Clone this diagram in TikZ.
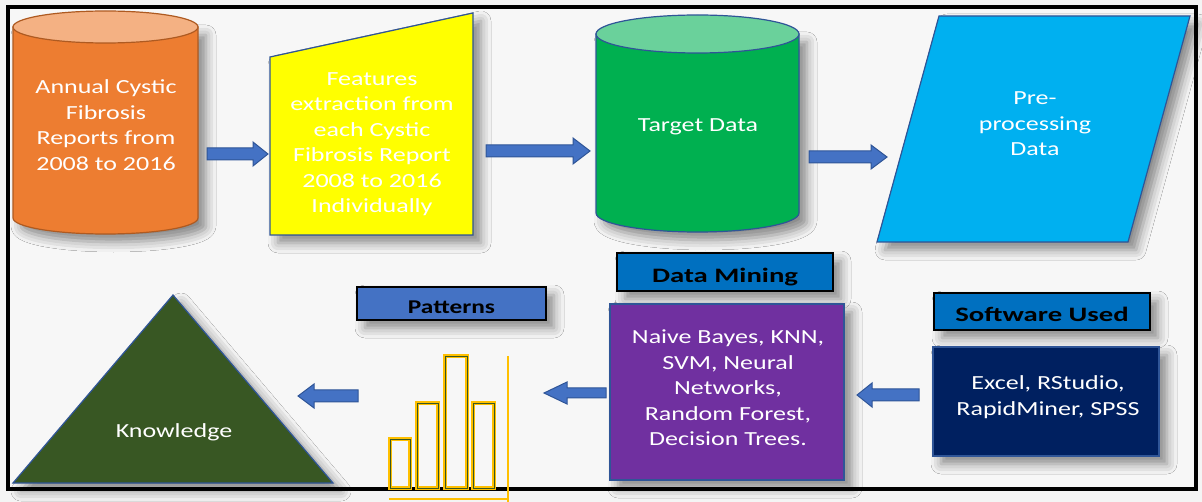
\documentclass[tikz,border=0pt]{standalone}
\usepackage{fontspec}
\setmainfont{Carlito}
\newfontfamily\wfont[FakeStretch=1.3]{Carlito}
\newfontfamily\lfont[FakeStretch=1.4]{Carlito}
\newfontfamily\pfont[FakeStretch=1.3]{Carlito}
\usetikzlibrary{shadows.blur}
\definecolor{bgc}{HTML}{F4F4F4}
\definecolor{orgbody}{HTML}{ED7D31}
\definecolor{orgtop}{HTML}{F4B183}
\definecolor{orgline}{HTML}{AE5A21}
\definecolor{bluelin}{HTML}{2F5597}
\definecolor{yel}{HTML}{FFFF00}
\definecolor{grnbody}{HTML}{00B050}
\definecolor{grntop}{HTML}{6AD19B}
\definecolor{cyanf}{HTML}{00B0F0}
\definecolor{dkgreen}{HTML}{385723}
\definecolor{purp}{HTML}{7030A0}
\definecolor{navy}{HTML}{002060}
\definecolor{lblblue}{HTML}{0070C0}
\definecolor{arrblue}{HTML}{4472C4}
\definecolor{gold}{HTML}{FFC000}
\begin{document}
\begin{tikzpicture}[x=1pt,y=-1pt,
  shd/.style={blur shadow={shadow xshift=8pt, shadow yshift=-8pt, shadow blur radius=10pt, shadow opacity=45}},
  wtxt/.style={text=white, align=center, font=\wfont\fontsize{20}{25.5}\selectfont},
  lbl/.style={draw=black, line width=1.2pt, font=\lfont\bfseries\fontsize{20.5}{24}\selectfont, text=black, inner sep=0pt, text height=21pt, text depth=0pt},
  arrowsty/.style={fill=arrblue, draw=bluelin, line width=1pt},
  pics/barrow/.style args={#1/#2/#3/#4}{code={
    \path[arrowsty] (0,-#3) -- ({#1-#2},-#3) -- ({#1-#2},-#4) -- (#1,0) -- ({#1-#2},#4) -- ({#1-#2},#3) -- (0,#3) -- cycle;}},
  bar/.style={draw=gold, line width=4pt},
  barin/.style={draw=dkgreen, line width=0.8pt}
]
\useasboundingbox (0,0) rectangle (1202,502);
\fill[bgc] (0,0) rectangle (1202,502);
\draw[line width=3.5pt, fill=bgc!70!white] (8,7) rectangle (1196,489);

% orange cylinder
\path[shd, fill=orgbody, draw=orgline, line width=1.2pt]
  (13,27) -- (13,218) arc (180:0:92.5 and 16) -- (198,27) -- cycle;
\path[fill=orgtop, draw=orgline, line width=1.2pt] (105.5,27) ellipse (92.5 and 16);
\node[wtxt] (annual) at (106,125) {Annual Cystic\\Fibrosis\\Reports from\\2008 to 2016};

% yellow manual input
\path[shd, fill=yel, draw=bluelin, line width=1.2pt]
  (270,57) -- (473,13) -- (473,235) -- (270,235) -- cycle;
\node[wtxt] (features) at (372,144) {Features\\extraction from\\each Cystic\\Fibrosis Report\\2008 to 2016\\Individually};

% green cylinder
\path[shd, fill=grnbody, draw=bluelin, line width=1.2pt]
  (596,34) -- (596,213) arc (180:0:101.5 and 19) -- (799,34) -- cycle;
\path[fill=grntop, draw=bluelin, line width=1.2pt] (697.5,34) ellipse (101.5 and 19);
\node[wtxt] (target) at (698,127) {Target Data};

% cyan parallelogram
\path[shd, fill=cyanf, draw=bluelin, line width=1.2pt]
  (939,16) -- (1190,16) -- (1128,242) -- (877,242) -- cycle;
\node[wtxt] (preproc) at (1035,124) {Pre-\\processing\\Data};

% top arrows
\pic (a1) at (207,154) {barrow=61/15/6/12};
\pic (a2) at (486,151) {barrow=104/17/6/13};
\pic (a3) at (809,157) {barrow=78/16/6/12};

% triangle
\path[shd, fill=dkgreen, draw=bluelin, line width=1.2pt]
  (173,295) -- (333,483) -- (13,483) -- cycle;
\node[wtxt] (knowledge) at (174,432) {Knowledge};

% patterns label
\node[lbl, shd, fill=arrblue, minimum width=189, minimum height=33, font=\pfont\bfseries\fontsize{19.5}{24}\selectfont] (patterns) at (451.5,303.5) {Patterns};

% bar chart
\foreach \xa/\xb/\yt in {390/410/439, 417/438/403, 445/467/356, 473/494/403}{
  \draw[bar] (\xa,488) rectangle (\xb,\yt);
  \draw[barin] (\xa,488) rectangle (\xb,\yt);
}
\draw[gold, line width=2.5pt] (508,356) -- (508,502);
\draw[gold, line width=2.5pt] (389,499) -- (508,499);

% data mining
\node[lbl, shd, fill=lblblue, minimum width=216, minimum height=38] (dm) at (725,272) {Data Mining};
\node[shd, fill=purp, draw=bluelin, line width=1.2pt, minimum width=234, minimum height=176] (algobox) at (727,392) {};
\node[wtxt] (algos) at (728,388) {Naive Bayes, KNN,\\SVM, Neural\\Networks,\\Random Forest,\\Decision Trees.};

% software
\node[lbl, shd, fill=lblblue, minimum width=216, minimum height=37] (sw) at (1042,311.5) {Software Used};
\node[shd, fill=navy, draw=bluelin, line width=1.2pt, minimum width=226, minimum height=109] (toolbox) at (1046,401.5) {};
\node[wtxt] (tools) at (1048,397) {Excel, RStudio,\\RapidMiner, SPSS};

% bottom arrows (pointing left)
\pic[rotate=180] (a4) at (358,396) {barrow=60/16/6/12};
\pic[rotate=180] (a5) at (606,393) {barrow=62/23/5/11};
\pic[rotate=180] (a6) at (919,395) {barrow=62/15/6/12};
\end{tikzpicture}
\end{document}
